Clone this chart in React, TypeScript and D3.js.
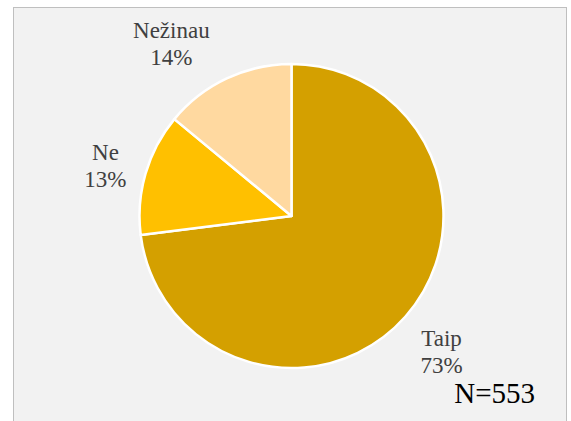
import React from "react";
import * as d3 from "d3";

const categories = ["Taip", "Ne", "Nežinau"];
const values = [73, 13, 14];
const colors = ["#D4A000", "#FFC000", "#FFD9A0"];
const sampleNote = "N=553";

// label placement along each slice's mid-angle, with small nudges (px)
const labelNudge: [number, number][] = [
  [0, 3],
  [6, 5],
  [-35, 8],
];

const W = 571;
const H = 421;
const SERIF = "Liberation Serif";

export default function App() {
  const cx = 291.5;
  const cy = 216;
  const r = 152;

  const pie = d3
    .pie<number>()
    .sort(null)
    .value((d) => d)
    .startAngle(0)
    .endAngle(2 * Math.PI);
  const arcs = pie(values);
  const arcGen = d3.arc<d3.PieArcDatum<number>>().innerRadius(0).outerRadius(r);
  const labelArc = d3.arc<d3.PieArcDatum<number>>().innerRadius(200).outerRadius(200);
  const total = d3.sum(values);
  const fs = 23;

  return (
    <svg
      width={W}
      height={H}
      style={{ position: "absolute", left: 0, top: 0, display: "block" }}
    >
      <rect x={0} y={0} width={W} height={H} fill="#ffffff" />
      <rect
        x={13.5}
        y={7.5}
        width={553}
        height={H + 10}
        fill="#F2F2F2"
        stroke="#BFBFBF"
        strokeWidth={1}
      />
      {arcs.map((a, i) => (
        <path
          key={categories[i]}
          transform={`translate(${cx},${cy})`}
          d={arcGen(a) || ""}
          fill={colors[i]}
          stroke="#ffffff"
          strokeWidth={2.5}
          strokeLinejoin="round"
        />
      ))}
      {arcs.map((a, i) => {
        const [lx, ly] = labelArc.centroid(a);
        const x = cx + lx + labelNudge[i][0];
        const y = cy + ly + labelNudge[i][1];
        const pct = Math.round((a.data / total) * 100) + "%";
        return (
          <React.Fragment key={"l" + i}>
            <text
              x={x}
              y={y - 5.5}
              textAnchor="middle"
              fontFamily={SERIF}
              fontSize={fs}
              fill="#404040"
            >
              {categories[i]}
            </text>
            <text
              x={x}
              y={y + 21.5}
              textAnchor="middle"
              fontFamily={SERIF}
              fontSize={fs}
              fill="#404040"
            >
              {pct}
            </text>
          </React.Fragment>
        );
      })}
      <text
        x={535}
        y={402.5}
        textAnchor="end"
        fontFamily={SERIF}
        fontSize={29}
        fill="#000000"
      >
        {sampleNote}
      </text>
    </svg>
  );
}
